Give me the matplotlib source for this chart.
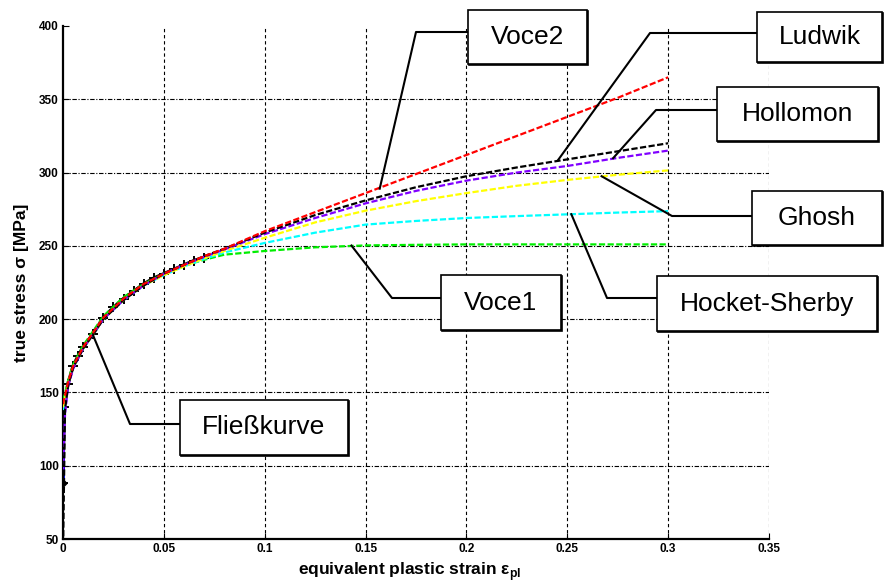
import matplotlib
matplotlib.use("Agg")
import matplotlib.pyplot as plt
from matplotlib.patches import Rectangle
from matplotlib.lines import Line2D

plt.rcParams["font.family"] = ["Liberation Sans", "DejaVu Sans"]
plt.rcParams["mathtext.fontset"] = "custom"
plt.rcParams["mathtext.rm"] = "Liberation Sans"
plt.rcParams["mathtext.bf"] = "Liberation Sans:bold"

# ---- measured flow curve ----
flow_eps = [0.0, 0.0005, 0.0025, 0.005, 0.0075, 0.01, 0.015, 0.02, 0.025, 0.03,
            0.035, 0.04, 0.045, 0.05, 0.055, 0.06, 0.065, 0.07]
flow_sig = [88, 140, 156, 168, 175, 181, 190, 201, 208, 214,
            219, 224, 228, 231, 234, 237, 240, 242]

# elastic branch at zero plastic strain
elastic_eps = [0.0, 0.0]
elastic_sig = [88, 138]

# ---- fitted hardening models ----
model_eps = [0.0, 0.001, 0.0025, 0.005, 0.01, 0.015, 0.02, 0.03, 0.04, 0.05,
             0.06, 0.07, 0.08, 0.1, 0.125, 0.15, 0.175, 0.2, 0.225, 0.25,
             0.275, 0.3]
voce2 = [142, 148, 157, 168, 181, 191, 201, 214, 224, 231,
         237, 243, 248, 260, 273, 286, 299, 312, 325, 338, 351, 365]
ludwik = [40, 138, 155, 167, 180, 190, 200, 213, 223, 231,
          237, 243, 248, 259, 271, 281, 290, 297.5, 303.5, 309, 314.5, 320]
hollomon = [95, 135, 154, 166, 180, 190, 200, 213, 223, 231,
            237, 242.5, 247.5, 258, 269, 279, 287.5, 294.5, 300, 304.5, 310, 315]
ghosh = [140, 146, 156, 167, 180, 190, 200, 213, 223, 230,
         236, 241.5, 246.5, 255.5, 266, 274, 280.5, 286, 291, 295, 298.5, 301.5]
hocket_sherby = [138, 145, 156, 167, 180, 190, 200, 213, 223, 230,
                 236, 241, 245.5, 252, 259, 264.5, 267, 269, 270.3, 271.5, 272.7, 273.7]
voce1 = [145, 149, 158, 169, 182, 192, 202, 215, 224, 231,
         236.5, 240.5, 244, 246.5, 249, 250.3, 250.7, 251, 251, 251, 251, 251]

x_ticks = [0, 0.05, 0.1, 0.15, 0.2, 0.25, 0.3, 0.35]
x_ticklabels = ["0", "0.05", "0.1", "0.15", "0.2", "0.25", "0.3", "0.35"]
y_ticks = [50, 100, 150, 200, 250, 300, 350, 400]

W, H = 890, 585
fig = plt.figure(figsize=(W / 100, H / 100), dpi=100)
ax = fig.add_axes([63 / W, 1 - 539 / H, (769 - 63) / W, (539 - 26) / H])

ax.set_xlim(0, 0.35)
ax.set_ylim(50, 400)
for s in ("top", "right"):
    ax.spines[s].set_visible(False)
for s in ("left", "bottom"):
    ax.spines[s].set_linewidth(1.6)

ax.set_xticks(x_ticks)
ax.set_xticklabels(x_ticklabels)
ax.set_yticks(y_ticks)
ax.tick_params(direction="in", length=4, width=0.8, labelsize=8.5, pad=3)
for lab in ax.get_xticklabels() + ax.get_yticklabels():
    lab.set_fontweight("bold")

# grid
for yv in y_ticks[1:-1]:
    ax.axhline(yv, color="black", lw=0.8, ls=(0, (4, 1.5, 1, 1.5)), zorder=0)
for xv in x_ticks[1:]:
    ax.axvline(xv, color="black", lw=0.8, ls=(0, (3, 2.5)), zorder=0)

# curves
ax.plot(flow_eps, flow_sig, color="black", lw=2.4, marker="+", ms=6.5, mew=1.4, zorder=2)
ax.plot(flow_eps[:1], flow_sig[:1], color="black", marker="D", ms=3.5, ls="none", zorder=3)
ax.plot(elastic_eps, elastic_sig, color="#0000ff", lw=2, zorder=2.5)

dash = (0, (2.8, 1.1))
models = [
    (voce1, "#00ee00"),
    (hocket_sherby, "#00ffff"),
    (ghosh, "#ffff00"),
    (hollomon, "#8000ff"),
    (ludwik, "black"),
    (voce2, "#ff0000"),
]
for vals, col in models:
    ax.plot(model_eps, vals, color=col, lw=1.6, ls=dash, zorder=3)

# ---- labelled boxes with leader lines ----
def px2fig(px, py):
    return px / W, 1 - py / H

def data2fig(x, y):
    disp = ax.transData.transform((x, y))
    return tuple(fig.transFigure.inverted().transform(disp))

# (label, anchor on curve (strain, stress), knee px, box px (left, top, right, bottom))
callouts = [
    ("Voce2", (0.157, 289.0), (416, 32), (468, 10, 587, 64)),
    ("Ludwik", (0.2454, 308.5), (650, 33), (757, 12, 882, 62)),
    ("Hollomon", (0.2727, 309.8), (656, 110), (717, 87, 878, 141)),
    ("Ghosh", (0.267, 297.5), (672, 216), (752, 191, 882, 245)),
    ("Hocket-Sherby", (0.252, 271.6), (607, 298), (657, 276, 877, 331)),
    ("Voce1", (0.143, 250.2), (392, 298), (441, 275, 561, 330)),
    ("Fließkurve", (0.0149, 189.0), (130, 424), (180, 400, 348, 455)),
]

for text, anchor, knee, box in callouts:
    ax_pt = data2fig(*anchor)
    kx, ky = px2fig(*knee)
    l, t, r, b = box
    bx, by = px2fig(l, knee[1])
    fig.add_artist(Line2D([ax_pt[0], kx, bx], [ax_pt[1], ky, by],
                          color="black", lw=1.5, transform=fig.transFigure, zorder=5))
    # drop shadow on bottom/right
    x0, y0 = px2fig(l + 1.2, b + 1.2)
    fig.add_artist(Rectangle((x0, y0), (r - l) / W, (b - t) / H,
                             transform=fig.transFigure, facecolor="black",
                             edgecolor="black", lw=1.2, zorder=6))
    x0, y0 = px2fig(l, b)
    fig.add_artist(Rectangle((x0, y0), (r - l) / W, (b - t) / H,
                             transform=fig.transFigure, facecolor="white",
                             edgecolor="black", lw=1.2, zorder=7))
    cx, cy = px2fig((l + r) / 2, (t + b) / 2)
    fig.text(cx, cy, text, ha="center", va="center", fontsize=19, zorder=8)

fig.text(410 / W, 1 - 572 / H, r"equivalent plastic strain ε$_{\mathbf{pl}}$",
         ha="center", va="center", fontsize=12.5, fontweight="bold")
fig.text(22 / W, 1 - 283 / H, "true stress σ [MPa]", rotation=90,
         ha="center", va="center", fontsize=12.5, fontweight="bold")

fig.savefig("out.png", dpi=100)
